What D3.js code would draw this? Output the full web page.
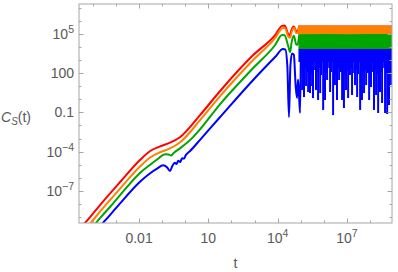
<!DOCTYPE html>
<html>
<head>
<meta charset="utf-8">
<script src="https://cdnjs.cloudflare.com/ajax/libs/d3/7.8.5/d3.min.js"></script>
<style>
  body { margin: 0; background: #fff; }
  text { font-family: "Liberation Sans", Arial, sans-serif; }
</style>
</head>
<body>
<div id="chart"></div>
<script>
// Data as [log10 t, log10 C]
const redPts = [[-4.6,-9.95],[-4.12,-9.0],[-3.69,-8.08],[-2.82,-6.32],[-1.96,-4.64],[-1.52,-3.95],[-1.09,-3.6],[-0.66,-3.32],[-0.23,-2.9],[0.64,-1.21],[1.51,0.63],[2.94,3.37],[3.89,4.9],[4.19,5.6],[4.3,5.62],[4.45,5.0],[4.52,4.85],[4.6,5.3],[4.7,5.55],[4.8,5.2],[4.86,5.15],[4.93,5.6]];
const orangePts = [[-4.6,-10.45],[-4.12,-9.5],[-3.69,-8.58],[-2.82,-6.82],[-1.96,-5.14],[-1.52,-4.45],[-1.09,-4.05],[-0.66,-3.75],[-0.23,-3.3],[0.64,-1.6],[1.51,0.24],[2.94,2.99],[3.89,4.67],[4.23,5.44],[4.32,5.42],[4.47,4.75],[4.54,4.7],[4.62,5.2],[4.72,5.45],[4.8,5.05],[4.86,5.05],[4.93,5.55]];
const greenPts = [[-4.6,-11.0],[-4.12,-10.0],[-3.69,-9.08],[-3.26,-8.23],[-2.82,-7.32],[-1.96,-5.63],[-1.52,-5.0],[-1.22,-4.6],[-0.87,-4.2],[-0.72,-4.22],[-0.62,-4.3],[-0.5,-4.1],[-0.23,-3.75],[0.34,-2.89],[0.64,-2.3],[1.51,-0.37],[2.94,2.38],[3.89,4.14],[4.19,4.9],[4.3,4.88],[4.45,4.1],[4.54,3.6],[4.6,4.3],[4.7,4.85],[4.8,4.2],[4.86,4.15],[4.93,4.9]];
const bluePts = [[-4.6,-11.6],[-4.12,-10.6],[-3.69,-9.7],[-3.26,-8.85],[-2.82,-7.95],[-1.96,-6.3],[-1.52,-5.65],[-1.22,-5.3],[-0.96,-5.05],[-0.79,-5.2],[-0.66,-5.48],[-0.56,-5.1],[-0.45,-4.85],[-0.38,-4.95],[-0.3,-4.7],[-0.22,-4.8],[-0.14,-4.5],[-0.06,-4.55],[0.03,-4.25],[0.21,-3.95],[0.64,-3.1],[1.51,-1.36],[2.94,1.47],[3.89,3.22],[4.23,3.83],[4.33,3.8],[4.42,2.5],[4.49,-1.36],[4.55,2.5],[4.62,3.5],[4.7,3.4],[4.78,1.0],[4.84,0.09],[4.88,1.5],[4.92,0.5],[4.97,-1.05],[5.0,3.0]];

// saturated regime: band envelopes (log10 C) at bandT
const bandT = [4.9, 6.0, 7.0, 8.0, 9.0];
const redTop = [5.62, 5.63, 5.62, 5.63, 5.62];
const orangeTop = [5.6, 5.62, 5.6, 5.62, 5.6];
const orangeBottom = [4.95, 4.95, 4.95, 4.95, 4.95];
const greenTop = [4.96, 4.98, 4.97, 4.98, 4.97];
const greenBottom = [3.8, 3.8, 3.8, 3.8, 3.8];
const blueTop = [3.84, 3.84, 3.84, 3.84, 3.84];
const blueBottom = [2.85, 2.85, 2.85, 2.85, 2.85];

// blue dips below its band
const blueSpikes = [[5.06,0.70],[5.14,0.17],[5.23,1.01],[5.32,0.55],[5.40,0.47],[5.49,1.01],[5.53,0.09],[5.66,0.70],[5.75,-0.06],[5.84,0.47],[5.97,-0.82],[6.05,-0.06],[6.14,1.47],[6.27,0.55],[6.40,-1.21],[6.48,1.08],[6.57,-0.06],[6.66,1.47],[6.79,-0.06],[6.87,-0.67],[6.96,0.70],[7.05,0.09],[7.13,1.85],[7.22,0.32],[7.35,1.08],[7.44,0.17],[7.57,-0.82],[7.65,-0.06],[7.74,0.47],[7.83,1.08],[7.96,-0.06],[8.04,0.93],[8.17,-0.82],[8.26,0.32],[8.35,-1.05],[8.43,0.55],[8.52,-0.29],[8.65,-1.05],[8.74,-1.13],[8.82,-0.44],[8.91,1.08]];
const blueSmallSpikes = [[5.01,2.23],[5.10,1.85],[5.19,2.38],[5.27,2.08],[5.36,2.23],[5.45,1.92],[5.62,2.23],[5.71,2.08],[5.79,2.38],[5.88,1.85],[6.01,2.23],[6.10,2.0],[6.23,2.38],[6.31,2.08],[6.44,2.23],[6.53,1.92],[6.61,2.38],[6.74,2.08],[6.83,2.23],[6.92,1.85],[7.00,2.23],[7.09,2.08],[7.18,2.38],[7.31,2.0],[7.39,2.23],[7.48,1.92],[7.61,2.38],[7.70,2.08],[7.78,2.23],[7.91,2.0],[8.00,2.38],[8.13,2.08],[8.22,2.23],[8.30,1.92],[8.39,2.23],[8.48,2.08],[8.61,2.38],[8.69,2.0],[8.78,2.23],[8.87,2.08]];

// ticks
const xTickExp = d3.range(-4, 9);
const yTickExp = d3.range(-9, 8);
const xLabels = [[-2, "0.01", null], [1, "10", null], [4, "10", "4"], [7, "10", "7"]];
const yLabels = [[5, "10", "5"], [2, "100", null], [-1, "0.1", null], [-4, "10", "\u22124"], [-7, "10", "\u22127"]];

const width = 398, height = 272;
const plot = { left: 79, right: 392, top: 4, bottom: 223 };
const colors = { red: "#ff0000", orange: "#ff8000", green: "#00a600", blue: "#0000ff" };

const svg = d3.select("#chart").append("svg")
  .attr("width", width)
  .attr("height", height);

const x = d3.scaleLog()
  .domain([Math.pow(10, -4.6), Math.pow(10, 8.95)])
  .range([plot.left, plot.right]);
const y = d3.scaleLog()
  .domain([Math.pow(10, -9.45), Math.pow(10, 7.27)])
  .range([plot.bottom, plot.top]);

const px = e => x(Math.pow(10, e));
const py = e => y(Math.pow(10, e));

svg.append("clipPath").attr("id", "clip")
  .append("rect")
  .attr("x", plot.left).attr("y", plot.top)
  .attr("width", plot.right - plot.left)
  .attr("height", plot.bottom - plot.top);

const g = svg.append("g").attr("clip-path", "url(#clip)");

const line = d3.line()
  .x(d => px(d[0]))
  .y(d => py(d[1]))
  .curve(d3.curveMonotoneX);

const band = (top, bottom) => d3.area()
  .x(d => px(d))
  .y0((d, i) => py(bottom[i]))
  .y1((d, i) => py(top[i]))(bandT);

// red
g.append("path").attr("d", line(redPts)).attr("fill", "none")
  .attr("stroke", colors.red).attr("stroke-width", 2);
g.append("path").attr("d", band(redTop, orangeBottom)).attr("fill", colors.red);
// orange
g.append("path").attr("d", line(orangePts)).attr("fill", "none")
  .attr("stroke", colors.orange).attr("stroke-width", 2);
g.append("path").attr("d", band(orangeTop, orangeBottom)).attr("fill", colors.orange);
// green
g.append("path").attr("d", line(greenPts)).attr("fill", "none")
  .attr("stroke", colors.green).attr("stroke-width", 2);
g.append("path").attr("d", band(greenTop, greenBottom)).attr("fill", colors.green);
// blue
g.append("path").attr("d", line(bluePts)).attr("fill", "none")
  .attr("stroke", colors.blue).attr("stroke-width", 2);
g.append("path").attr("d", band(blueTop, blueBottom)).attr("fill", colors.blue);

g.selectAll(".spike")
  .data(blueSpikes.concat(blueSmallSpikes))
  .enter()
  .append("line")
  .attr("x1", d => px(d[0]))
  .attr("x2", d => px(d[0]))
  .attr("y1", py(3.0))
  .attr("y2", d => py(d[1]))
  .attr("stroke", colors.blue)
  .attr("stroke-width", 2);

// frame
const frameColor = "#a6a6a6";
svg.append("rect")
  .attr("x", plot.left).attr("y", plot.top)
  .attr("width", plot.right - plot.left)
  .attr("height", plot.bottom - plot.top)
  .attr("fill", "none")
  .attr("stroke", frameColor);

const xMajor = e => xLabels.some(l => l[0] === e);
const yMajor = e => yLabels.some(l => l[0] === e);

xTickExp.forEach(e => {
  const xx = Math.round(px(e)) + 0.5;
  const len = xMajor(e) ? 4.5 : 2.5;
  svg.append("line").attr("x1", xx).attr("x2", xx)
    .attr("y1", plot.bottom).attr("y2", plot.bottom - len)
    .attr("stroke", frameColor);
  svg.append("line").attr("x1", xx).attr("x2", xx)
    .attr("y1", plot.top).attr("y2", plot.top + len)
    .attr("stroke", frameColor);
});
yTickExp.forEach(e => {
  const yy = Math.round(py(e)) + 0.5;
  const len = yMajor(e) ? 4.5 : 2.5;
  svg.append("line").attr("x1", plot.left).attr("x2", plot.left + len)
    .attr("y1", yy).attr("y2", yy)
    .attr("stroke", frameColor);
  svg.append("line").attr("x1", plot.right).attr("x2", plot.right - len)
    .attr("y1", yy).attr("y2", yy)
    .attr("stroke", frameColor);
});

// tick labels
const labelColor = "#595959";
xLabels.forEach(([e, base, sup]) => {
  const t = svg.append("text")
    .attr("x", px(e))
    .attr("y", 243)
    .attr("text-anchor", "middle")
    .attr("font-size", 14)
    .attr("fill", labelColor)
    .text(base);
  if (sup) t.append("tspan").attr("dy", -6).attr("font-size", 10.5).text(sup);
});
yLabels.forEach(([e, base, sup]) => {
  const t = svg.append("text")
    .attr("x", 74)
    .attr("y", py(e) + 5)
    .attr("text-anchor", "end")
    .attr("font-size", 14)
    .attr("fill", labelColor)
    .text(base);
  if (sup) t.append("tspan").attr("dy", -6).attr("font-size", 10.5).text(sup);
});

// axis labels
svg.append("text")
  .attr("x", (plot.left + plot.right) / 2)
  .attr("y", 268)
  .attr("text-anchor", "middle")
  .attr("font-size", 14)
  .attr("fill", labelColor)
  .text("t");

const yl = svg.append("text")
  .attr("x", 1)
  .attr("y", 122)
  .attr("font-size", 14)
  .attr("fill", labelColor);
yl.append("tspan").attr("font-style", "italic").text("C");
yl.append("tspan").attr("font-style", "italic").attr("font-size", 10).attr("dy", 3).text("S");
yl.append("tspan").attr("dy", -3).text("(t)");
</script>
</body>
</html>
